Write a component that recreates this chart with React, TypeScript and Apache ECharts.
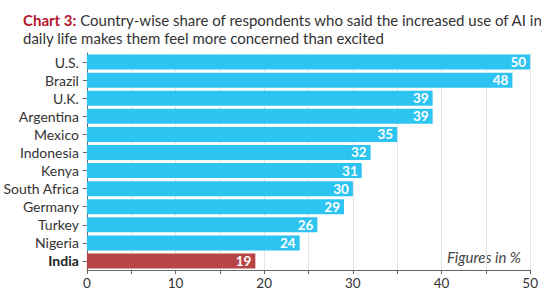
import React, { useEffect, useRef } from "react";
import * as echarts from "echarts";

const countries = ["U.S.", "Brazil", "U.K.", "Argentina", "Mexico", "Indonesia", "Kenya", "South Africa", "Germany", "Turkey", "Nigeria", "India"];
const shares = [50, 48, 39, 39, 35, 32, 31, 30, 29, 26, 24, 19];
const highlight = "India";
const xTicks = [0, 10, 20, 30, 40, 50];

export default function App() {
  const ref = useRef<HTMLDivElement>(null);
  useEffect(() => {
    const chart = echarts.init(ref.current!, null, { renderer: "svg" });
    const font = "Lato, 'Noto Sans', sans-serif";
    chart.setOption({
      animation: false,
      textStyle: { fontFamily: font },
      title: {
        left: 18,
        top: 6,
        text: "{b|Chart 3:} Country-wise share of respondents who said the increased use of AI in\ndaily life makes them feel more concerned than excited",
        textStyle: {
          fontFamily: font,
          fontSize: 15,
          fontWeight: "normal",
          color: "#333",
          lineHeight: 18,
          rich: {
            b: { fontFamily: font, fontSize: 15, fontWeight: "bold", color: "#b5172e", lineHeight: 18 },
          },
        },
      },
      grid: { left: 85, right: 8, top: 53, bottom: 23, containLabel: false },
      xAxis: {
        type: "value",
        min: 0,
        max: 50,
        interval: 5,
        axisLine: { show: true, lineStyle: { color: "#666" } },
        axisTick: { show: true, length: 4, lineStyle: { color: "#666" } },
        axisLabel: {
          color: "#333",
          fontSize: 13.5,
          margin: 6,
          formatter: (v: number) => (xTicks.includes(v) ? String(v) : ""),
        },
        splitLine: { show: true, lineStyle: { color: "#e6e6e6" } },
      },
      yAxis: {
        type: "category",
        data: countries,
        inverse: true,
        axisLine: { show: true, lineStyle: { color: "#666" } },
        axisTick: { show: true, length: 4, alignWithLabel: true, interval: 0, lineStyle: { color: "#666" } },
        axisLabel: {
          interval: 0,
          color: "#333",
          fontSize: 14,
          margin: 8,
          formatter: (v: string) => (v === highlight ? `{b|${v}}` : v),
          rich: { b: { fontWeight: "bold", fontSize: 14, color: "#222" } },
        },
      },
      graphic: [
        {
          type: "text",
          right: 20,
          top: 249,
          style: { text: "Figures in %", font: `italic 15px ${font}`, fill: "#444" },
        },
      ],
      series: [
        {
          type: "bar",
          data: shares.map((v, i) => ({
            value: v,
            itemStyle: { color: countries[i] === highlight ? "#b84545" : "#2ec4f2" },
          })),
          barWidth: 15,
          label: {
            show: true,
            position: "insideRight",
            color: "#fff",
            fontWeight: "bold",
            fontSize: 13.5,
            distance: 4,
          },
        },
      ],
    });
    return () => chart.dispose();
  }, []);
  return <div ref={ref} style={{ width: 541, height: 293, position: "absolute", left: 0, top: 0 }} />;
}
